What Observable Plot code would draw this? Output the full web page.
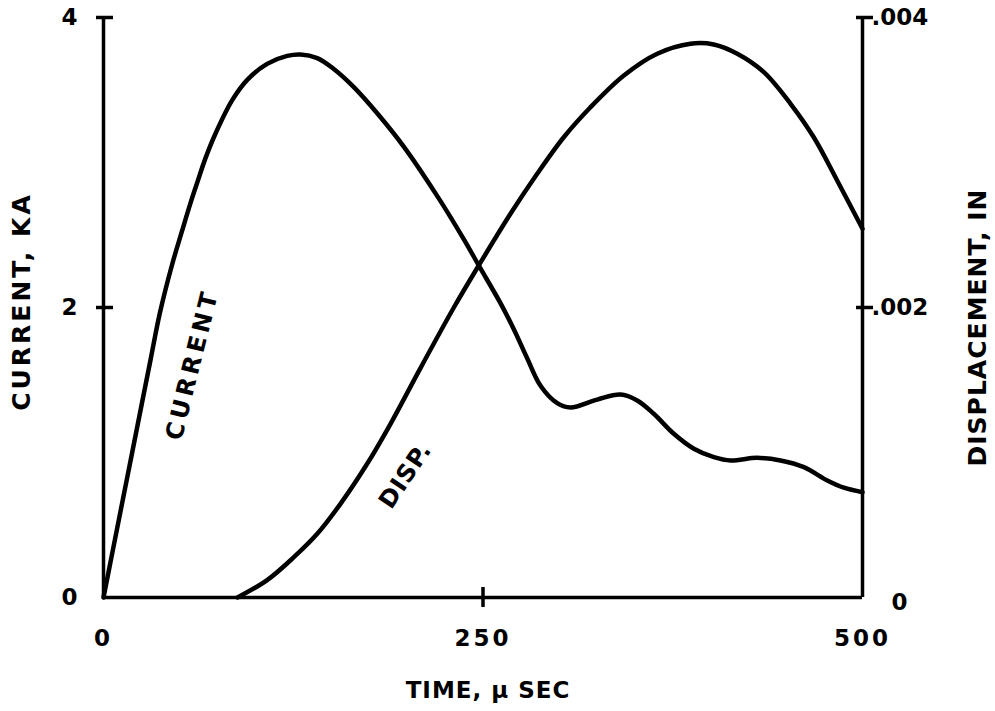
<!DOCTYPE html>
<html>
<head>
<meta charset="utf-8">
<script src="https://cdn.jsdelivr.net/npm/d3@7"></script>
<script src="https://cdn.jsdelivr.net/npm/@observablehq/plot@0.6"></script>
<style>
  html, body { margin: 0; padding: 0; background: #fff; }
  svg text { font-family: "DejaVu Sans", "Liberation Sans", sans-serif; font-weight: bold; }
</style>
</head>
<body>
<div id="chart"></div>
<script>
// Current, kA (left axis)
const currentTime  = [0, 4.6, 11.2, 18.9, 25.5, 31.0, 37.1, 45.3, 51.8, 57.3, 61.7, 67.2, 73.8, 84.8, 94.7, 107.8, 121.0, 129.8, 140.8, 151.7, 164.9, 180.3, 197.8, 219.8, 237.4, 247.2, 261.5, 270.3, 279.1, 287.9, 298.9, 307.6, 325.2, 340.6, 351.6, 362.5, 375.7, 388.9, 402.1, 413.1, 430.6, 446.0, 461.4, 476.8, 487.7, 500];
const currentValue = [0, 0.244, 0.594, 1.00, 1.35, 1.64, 1.96, 2.30, 2.53, 2.72, 2.86, 3.03, 3.20, 3.43, 3.57, 3.68, 3.735, 3.745, 3.72, 3.645, 3.52, 3.34, 3.11, 2.77, 2.47, 2.29, 2.03, 1.85, 1.65, 1.46, 1.34, 1.31, 1.365, 1.40, 1.359, 1.267, 1.129, 1.026, 0.968, 0.945, 0.963, 0.945, 0.899, 0.807, 0.757, 0.726];

// Displacement, inches (right axis)
const dispTime  = [88.3, 107.8, 125.4, 140.8, 156.1, 173.7, 189.1, 208.8, 230.8, 247.2, 268.1, 285.7, 303.2, 320.8, 342.8, 364.8, 386.7, 402.0, 417.5, 435.0, 452.6, 467.9, 483.3, 500];
const dispValue = [0, 0.000120, 0.000278, 0.000439, 0.000646, 0.000922, 0.001198, 0.001582, 0.002000, 0.002290, 0.002646, 0.002922, 0.003174, 0.003381, 0.003600, 0.003750, 0.003819, 0.003814, 0.003750, 0.003623, 0.003405, 0.003174, 0.002876, 0.002543];

// Axis ticks and labels
const xTicks = [0, 250, 500];
const leftTicks = [0, 2, 4];
const rightTicks = [0, 0.002, 0.004];
const rightTickLabels = ["0", ".002", ".004"];
const dispToCurrent = 1000; // .004 in. sits level with 4 kA

const xTitle = "TIME, \u00B5 SEC";
const leftTitle = "CURRENT, KA";
const rightTitle = "DISPLACEMENT, IN";

// In-chart curve labels
const curveLabels = [
  {text: "CURRENT", t: 58.6, v: 1.607, angle: -76},
  {text: "DISP.", t: 198.9, v: 0.841, angle: -56}
];

const current = currentTime.map((t, i) => ({t, v: currentValue[i]}));
const disp = dispTime.map((t, i) => ({t, v: dispValue[i] * dispToCurrent}));
const rightLabelOf = new Map(rightTicks.map((d, i) => [d * dispToCurrent, rightTickLabels[i]]));

const font = '"DejaVu Sans", "Liberation Sans", sans-serif';
const ink = "#000";

const chart = Plot.plot({
  width: 995,
  height: 711,
  marginLeft: 103,
  marginRight: 133,
  marginTop: 17,
  marginBottom: 114,
  x: {domain: [0, 500]},
  y: {domain: [0, 4]},
  style: {fontFamily: font, fontSize: "23px", fontWeight: "bold", color: ink, background: "#fff"},
  marks: [
    // frame lines
    Plot.ruleX([0, 500], {stroke: ink, strokeWidth: 3.5}),
    Plot.ruleY([0], {stroke: ink, strokeWidth: 3.5}),
    // crossing tick marks
    Plot.ruleY(leftTicks.slice(1), {y: d => d, x1: 0, x2: 0, insetLeft: -7, insetRight: -10, stroke: ink, strokeWidth: 3.5}),
    Plot.ruleY(rightTicks.slice(1), {y: d => d * dispToCurrent, x1: 500, x2: 500, insetLeft: -6, insetRight: -11, stroke: ink, strokeWidth: 3.5}),
    Plot.ruleX([250], {x: d => d, y1: 0, y2: 0, insetTop: -10, insetBottom: -10, stroke: ink, strokeWidth: 3.5}),
    // tick labels
    Plot.axisX({ticks: xTicks, tickSize: 0, tickPadding: 32, tickFormat: d => String(d), label: null, fontSize: 23}),
    Plot.axisY({anchor: "left", ticks: leftTicks, tickSize: 0, tickPadding: 26, tickFormat: d => String(d), label: null, fontSize: 23}),
    Plot.axisY({anchor: "right", ticks: rightTicks.slice(1).map(d => d * dispToCurrent), tickSize: 0, tickPadding: 9,
      tickFormat: d => rightLabelOf.get(d), label: null, fontSize: 23}),
    Plot.axisY({anchor: "right", ticks: [rightTicks[0] * dispToCurrent], tickSize: 0, tickPadding: 29,
      tickFormat: d => rightLabelOf.get(d), label: null, fontSize: 23, dy: 5}),
    // axis titles
    Plot.text([xTitle], {frameAnchor: "bottom", textAnchor: "middle", lineAnchor: "middle", dy: 93, dx: 5, fontSize: 23}),
    Plot.text([leftTitle], {frameAnchor: "left", textAnchor: "middle", lineAnchor: "middle", dx: -82, dy: -6, rotate: -90, fontSize: 25}),
    Plot.text([rightTitle], {frameAnchor: "right", textAnchor: "middle", lineAnchor: "middle", dx: 115, dy: 20, rotate: -90, fontSize: 25}),
    // curves
    Plot.line(current, {x: "t", y: "v", curve: "catmull-rom", stroke: ink, strokeWidth: 4.5}),
    Plot.line(disp, {x: "t", y: "v", curve: "catmull-rom", stroke: ink, strokeWidth: 4.5}),
    // curve labels
    Plot.text(curveLabels, {x: "t", y: "v", text: "text", rotate: "angle", fontSize: 24, fill: ink})
  ]
});

document.getElementById("chart").appendChild(chart);
const spacing = new Map([
  [xTitle, "1px"], [leftTitle, "3px"], [rightTitle, "1px"],
  ["CURRENT", "4px"], ["DISP.", "1px"]
]);
d3.select(chart).selectAll("text").each(function () {
  const s = spacing.get(this.textContent);
  if (s) this.style.letterSpacing = s;
});
d3.select(chart).selectAll('g[aria-label="x-axis tick label"] text').style("letter-spacing", "3px");
</script>
</body>
</html>
